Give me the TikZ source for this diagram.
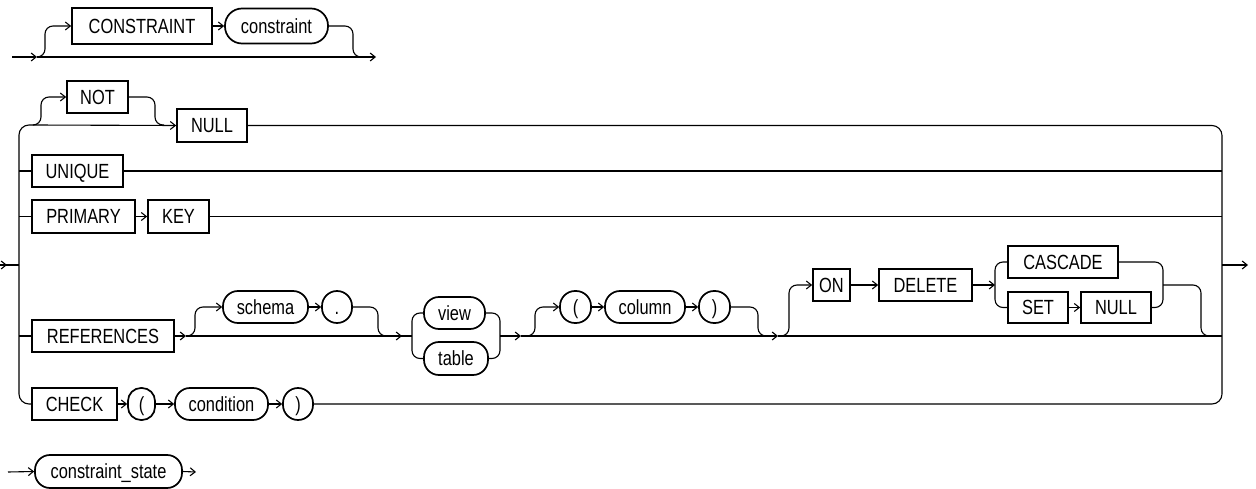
\documentclass[tikz,border=0pt]{standalone}
\usepackage{fontspec}
\setmainfont{Liberation Sans}[FakeStretch=0.8]
\usetikzlibrary{arrows.meta}
\begin{document}
\begin{tikzpicture}[x=1pt,y=-1pt,
  conn/.style={line width=1.1pt, rounded corners=8pt},
  arr/.style={conn,-{Straight Barb[length=5pt,width=8pt,line width=1.1pt]}},
  kw/.style={draw, line width=1.7pt, minimum height=32pt, inner sep=0pt, text height=14.6pt, text depth=0pt, font=\fontsize{20.5}{22}\selectfont},
  ref/.style={kw, rounded corners=15pt},
  sref/.style={kw, rounded corners=13pt},
]
\useasboundingbox (0,0) rectangle (1256,489);

% ---------- top row ----------
\node[kw, minimum width=140pt, minimum height=36pt] (tCONSTRAINT) at (142,26) {CONSTRAINT};
\node[ref, minimum width=103pt, minimum height=35pt, rounded corners=17pt] (tconstraint) at (276.5,26) {constraint};
\coordinate (tin) at (12,57);
\coordinate (tsplit) at (37,57);
\coordinate (tjoin) at (363,57);
\coordinate (tout) at (376,57);
\draw[arr] (tin) -- (tsplit);
\draw[conn] (tsplit) -- (tjoin);
\draw[arr] (tjoin) -- (tout);
\draw[arr] (tsplit) -| (45,26) -- (tCONSTRAINT.west);
\draw[arr] (tCONSTRAINT.east) -- (tconstraint.west);
\draw[conn] (tconstraint.east) -| (353,57) -- (tjoin);

% ---------- main diagram nodes ----------
\node[kw, minimum width=61pt] (NOT) at (97.5,97) {NOT};
\node[kw, minimum width=70pt, minimum height=33pt] (NULLa) at (212,125.5) {NULL};
\node[kw, minimum width=91pt] (UNIQUE) at (77.5,171) {UNIQUE};
\node[kw, minimum width=103pt, minimum height=33pt] (PRIMARY) at (83.5,216.5) {PRIMARY};
\node[kw, minimum width=61pt, minimum height=33pt] (KEY) at (178.5,216.5) {KEY};
\node[kw, minimum width=142pt] (REF) at (103,336) {REFERENCES};
\node[ref, minimum width=85pt] (schema) at (265.5,307) {schema};
\node[ref, minimum width=30pt] (dot) at (337,307) {.};
\node[ref, minimum width=61pt] (view) at (454.5,313) {view};
\node[ref, minimum width=64pt, minimum height=33pt] (table) at (456,358.5) {table};
\node[ref, minimum width=31pt] (lp) at (575.5,307) {(};
\node[ref, minimum width=80pt] (column) at (645,307) {column};
\node[ref, minimum width=31pt] (rp) at (714.5,307) {)};
\node[kw, minimum width=37pt] (ON) at (831.5,285) {ON};
\node[kw, minimum width=93pt] (DELETE) at (925.5,285) {DELETE};
\node[kw, minimum width=110pt] (CASCADE) at (1063,262) {CASCADE};
\node[kw, minimum width=60pt, minimum height=31pt] (SET) at (1038,307.5) {SET};
\node[kw, minimum width=70pt, minimum height=31pt] (NULLb) at (1116,307.5) {NULL};
\node[kw, minimum width=85pt] (CHECK) at (74.5,404) {CHECK};
\node[sref, minimum width=27pt] (cl) at (141.5,404) {(};
\node[ref, minimum width=93pt] (cond) at (221.5,404) {condition};
\node[ref, minimum width=30pt] (cr) at (298,404) {)};

% ---------- rails ----------
\coordinate (Lin) at (0,265);
\coordinate (Lj) at (19,265);
\coordinate (Rj) at (1222,265);
\coordinate (Rout) at (1248,265);
\draw[conn] (Lin) -- (Lj);
\draw[arr] (Lin) -- (7,265);
\draw[arr] (Rj) -- (Rout);

\coordinate (Nsplit) at (33,125);
\coordinate (Njoin) at (164,125);
\draw[conn, rounded corners=10pt] (Nsplit) -| (Lj |- CHECK.west) -- (CHECK.west);
\draw[conn, rounded corners=10pt] (NULLa.east) -| (Rj |- cr.east) -- (cr.east);

% NOT / NULL row
\draw[arr] (Nsplit) -- (NULLa.west);
\draw[arr] (Nsplit) -| (41,97) -- (NOT.west);
\draw[conn] (NOT.east) -| (155,125) -- (Njoin);

% UNIQUE row
\draw[conn] (Lj |- UNIQUE.west) -- (UNIQUE.west);
\draw[conn] (UNIQUE.east) -- (Rj |- UNIQUE.east);

% PRIMARY KEY row
\draw[conn] (Lj |- PRIMARY.west) -- (PRIMARY.west);
\draw[arr] (PRIMARY.east) -- (KEY.west);
\draw[conn] (KEY.east) -- (Rj |- KEY.east);

% REFERENCES row
\coordinate (Rs1) at (186,336);
\coordinate (Rj1) at (388,336);
\coordinate (VTl) at (412,336);
\coordinate (VTr) at (500,336);
\coordinate (Cs) at (521,336);
\coordinate (Cj) at (768,336);
\coordinate (Os) at (778,336);
\coordinate (Dl) at (995,285);
\coordinate (Dr) at (1163,285);
\coordinate (Oj) at (1212,336);
\draw[conn] (Lj |- REF.west) -- (REF.west);
\draw[arr] (REF.east) -- (Rs1);
\draw[conn] (Rs1) -- (Rj1);
\draw[arr] (Rs1) -| (195,307) -- (schema.west);
\draw[arr] (schema.east) -- (dot.west);
\draw[conn] (dot.east) -| (378,336) -- (Rj1);
\draw[conn] (Rj1) -- (VTl);
\draw[arr] (Rj1) -- (402,336);
\draw[conn] (view.west) -| (VTl |- table.west) -- (table.west);
\draw[conn] (view.east) -| (VTr |- table.east) -- (table.east);
\draw[arr] (VTr) -- (Cs);
\draw[conn] (Cs) -- (Cj);
\draw[arr] (Cs) -| (535,307) -- (lp.west);
\draw[arr] (lp.east) -- (column.west);
\draw[arr] (column.east) -- (rp.west);
\draw[conn] (rp.east) -| (758,336) -- (Cj);
\draw[arr] (Cj) -- (Os);
\draw[conn] (Os) -- (Rj |- Os);
\draw[arr] (Os) -| (789,285) -- (ON.west);
\draw[arr] (ON.east) -- (DELETE.west);
\draw[arr] (DELETE.east) -- (Dl);
\draw[conn] (CASCADE.west) -| (Dl |- SET.west) -- (SET.west);
\draw[arr] (SET.east) -- (NULLb.west);
\draw[conn] (CASCADE.east) -| (Dr |- NULLb.east) -- (NULLb.east);
\draw[conn] (Dr) -| (1201,336) -- (Oj);

% CHECK row
\draw[arr] (CHECK.east) -- (cl.west);
\draw[arr] (cl.east) -- (cond.west);
\draw[arr] (cond.east) -- (cr.west);

% ---------- bottom row ----------
\node[ref, minimum width=147pt, minimum height=33pt] (cstate) at (108.5,471.5) {constraint\_state};
\coordinate (Sin) at (8,472);
\coordinate (Sout) at (196,472);
\draw[arr] (Sin) -- (cstate.west);
\draw[arr] (cstate.east) -- (Sout);
\end{tikzpicture}
\end{document}
